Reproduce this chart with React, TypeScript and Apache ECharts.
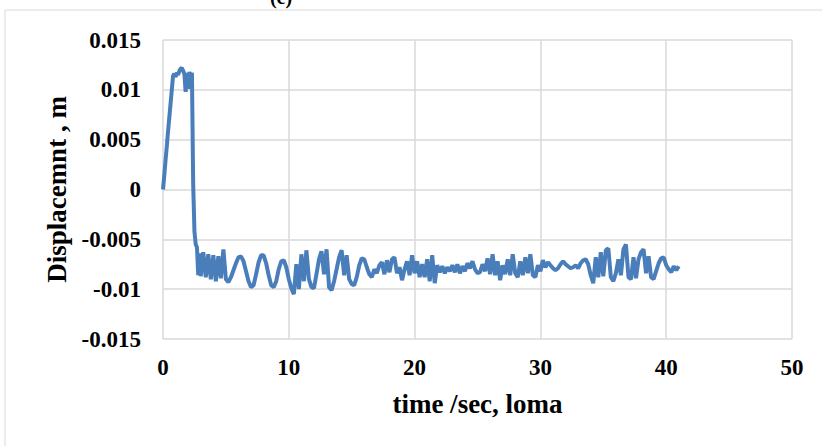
import React, { useEffect, useRef } from "react";
import * as echarts from "echarts";

// Early segment: t = 0.0 .. 2.9 s, sampled every 0.1 s
const riseStart = 0;
const riseStep = 0.1;
const riseDisp = [
  0, 0.0014, 0.0029, 0.0043, 0.0058, 0.0072, 0.0086, 0.01, 0.0114, 0.0116,
  0.0113, 0.0117, 0.0115, 0.0119, 0.0121, 0.0122, 0.0119, 0.0116, 0.0098, 0.0117,
  0.0101, 0.0118, 0.0113, 0.0117, 0.0005, -0.0042, -0.0055, -0.0058, -0.0086, -0.0064,
];

// Main segment: t = 3.0 .. 41.0 s, sampled every 0.2 s
const mainStart = 3.0;
const mainStep = 0.2;
const mainDisp = [
  -0.0087, -0.0063, -0.0088, -0.0065, -0.009, -0.0066, -0.0092, -0.0067, -0.0089, -0.006,
  -0.009, -0.0093, -0.0088, -0.0081, -0.0074, -0.0068, -0.0067, -0.0072, -0.0082, -0.0092,
  -0.0098, -0.0096, -0.0085, -0.0073, -0.0066, -0.0066, -0.0074, -0.0086, -0.0096, -0.0098,
  -0.0092, -0.008, -0.0072, -0.0071, -0.0078, -0.009, -0.0099, -0.0105, -0.0075, -0.01,
  -0.0065, -0.0092, -0.0061, -0.009, -0.0098, -0.0099, -0.0085, -0.007, -0.0062, -0.0085,
  -0.006, -0.0098, -0.0101, -0.0092, -0.008, -0.0068, -0.0061, -0.0086, -0.0066, -0.009,
  -0.0095, -0.0096, -0.0088, -0.0076, -0.0069, -0.007, -0.0078, -0.0085, -0.0088, -0.008,
  -0.0084, -0.0076, -0.0073, -0.0085, -0.0071, -0.0083, -0.007, -0.0068, -0.0084, -0.0078,
  -0.0091, -0.008, -0.0072, -0.0086, -0.0066, -0.0084, -0.0072, -0.0088, -0.0075, -0.0088,
  -0.007, -0.0092, -0.0066, -0.0094, -0.0076, -0.0083, -0.0077, -0.0084, -0.0078, -0.0082,
  -0.0076, -0.0083, -0.0075, -0.0084, -0.0077, -0.0082, -0.0074, -0.0079, -0.0072, -0.008,
  -0.0084, -0.0083, -0.0075, -0.0082, -0.0069, -0.0085, -0.0065, -0.0086, -0.0072, -0.0091,
  -0.0076, -0.0085, -0.007, -0.0086, -0.0065, -0.0084, -0.0088, -0.0072, -0.0086, -0.0068,
  -0.0084, -0.0065, -0.0086, -0.0088, -0.0076, -0.0082, -0.0071, -0.0078, -0.0073, -0.0076,
  -0.0079, -0.0081, -0.0079, -0.0075, -0.0072, -0.0075, -0.0077, -0.0079, -0.0078, -0.0076,
  -0.0079, -0.0074, -0.0071, -0.007, -0.0075, -0.0086, -0.0094, -0.0068, -0.0088, -0.0063,
  -0.0087, -0.0061, -0.0059, -0.0088, -0.0092, -0.0084, -0.007, -0.0086, -0.006, -0.0055,
  -0.0088, -0.009, -0.0068, -0.0089, -0.007, -0.0063, -0.006, -0.0084, -0.0067, -0.0088,
  -0.009, -0.0082, -0.0074, -0.0069, -0.0068, -0.0076, -0.008, -0.0083, -0.0077, -0.0081,
  -0.0077,
];

const xTicks = { min: 0, max: 50, interval: 10 };
const yTicks = { min: -0.015, max: 0.015, interval: 0.005 };
const xTitle = "time /sec, loma";
const yTitle = "Displacemnt , m";
const panelLabel = "(c)";

const FONT = "'Liberation Serif', 'Times New Roman', serif";

export default function App() {
  const ref = useRef<HTMLDivElement>(null);

  useEffect(() => {
    if (!ref.current) return;
    const chart = echarts.init(ref.current, null, { renderer: "svg" });

    const data: [number, number][] = [];
    riseDisp.forEach((v, i) => data.push([+(riseStart + i * riseStep).toFixed(2), v]));
    mainDisp.forEach((v, i) => data.push([+(mainStart + i * mainStep).toFixed(2), v]));

    chart.setOption({
      animation: false,
      backgroundColor: "#ffffff",
      graphic: [
        {
          type: "rect",
          shape: { x: 5, y: 10, width: 840, height: 460 },
          style: { fill: "none", stroke: "#d9d9d9", lineWidth: 1 },
          silent: true,
        },
        {
          type: "text",
          x: 281,
          y: -13,
          style: {
            text: panelLabel,
            font: `bold 20px ${FONT}`,
            fill: "#000",
            textAlign: "center",
            textVerticalAlign: "top",
          },
        },
      ],
      grid: { left: 163, right: 30, top: 40, bottom: 107, containLabel: false },
      xAxis: {
        type: "value",
        min: xTicks.min,
        max: xTicks.max,
        interval: xTicks.interval,
        name: xTitle,
        nameLocation: "middle",
        nameGap: 51,
        nameTextStyle: { fontFamily: FONT, fontWeight: "bold", fontSize: 27, color: "#000" },
        axisLine: { show: false },
        axisTick: { show: false },
        axisLabel: { fontFamily: FONT, fontWeight: "bold", fontSize: 23, color: "#000", margin: 17 },
        splitLine: { show: true, lineStyle: { color: "#d9d9d9", width: 1.5 } },
      },
      yAxis: {
        type: "value",
        min: yTicks.min,
        max: yTicks.max,
        interval: yTicks.interval,
        name: yTitle,
        nameLocation: "middle",
        nameRotate: 90,
        nameGap: 91,
        nameTextStyle: { fontFamily: FONT, fontWeight: "bold", fontSize: 27, color: "#000" },
        axisLine: { show: false },
        axisTick: { show: false },
        axisLabel: {
          fontFamily: FONT,
          fontWeight: "bold",
          fontSize: 23,
          color: "#000",
          margin: 22,
          formatter: (v: number) => String(+v.toFixed(3)),
        },
        splitLine: { show: true, lineStyle: { color: "#d9d9d9", width: 1.5 } },
      },
      series: [
        {
          type: "line",
          data,
          showSymbol: false,
          lineStyle: { color: "#4a7ebb", width: 4 },
          z: 3,
        },
      ],
    });

    return () => chart.dispose();
  }, []);

  return (
    <div
      ref={ref}
      style={{ position: "fixed", left: 0, top: 0, width: 822, height: 446 }}
    />
  );
}
